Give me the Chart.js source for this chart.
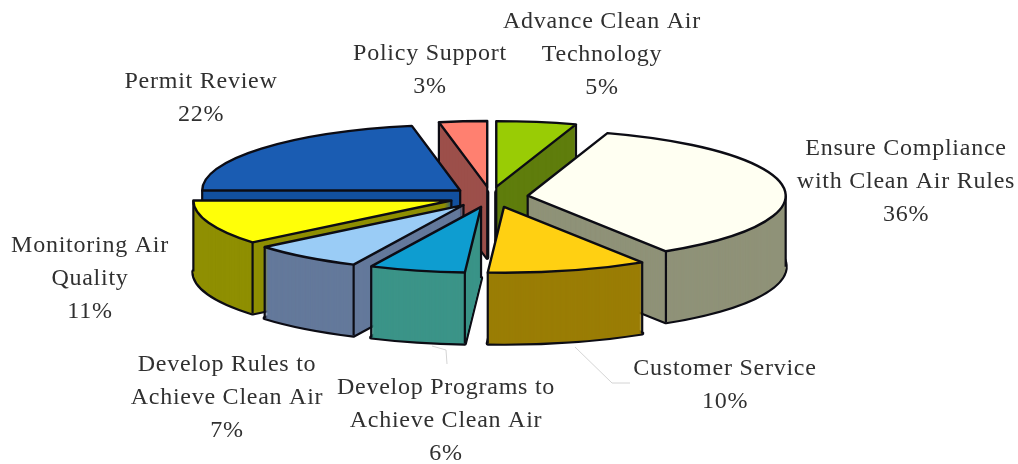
<!DOCTYPE html>
<html><head><meta charset="utf-8">
<style>html,body{margin:0;padding:0;background:#fff}#w{width:1018px;height:464px}</style>
<script src="https://cdn.jsdelivr.net/npm/chart.js@4/dist/chart.umd.min.js"></script>
</head><body><div id="w"><canvas id="c" width="1018" height="464"></canvas></div>
<script>
const categories = ["Advance Clean Air\nTechnology","Ensure Compliance\nwith Clean Air Rules","Customer Service","Develop Programs to\nAchieve Clean Air","Develop Rules to\nAchieve Clean Air","Monitoring Air\nQuality","Permit Review","Policy Support"];
const shares = [5,36,10,6,7,11,22,3];
const topColors = ["#99cc05","#fffff2","#ffd012","#0e9dd0","#9accf6","#ffff08","#1a5cb2","#ff8070"];
const sideColors = ["#5f7d0c","#8f9278","#9a7d05","#3b9488","#64799b","#8f8f02","#12509f","#9c4f4a"];
const labelCenters = [[602,22],[906,149],[725,369],[446,388],[227,365],[90,246],[201,82],[430,54]];
const nudgeX = [2,0,6,3,0,1,3,3];

const SQUASH = 0.255, DEPTH = 71, EXPLODE = 40, RADIUS = 258, LINE_H = 33;
const PAINT_ORDER = [0,7,6,1,5,4,3,2];
const TWO_PI = Math.PI*2;

function geom(arc,i){
  const p = arc.getProps(['x','y','startAngle','endAngle','outerRadius']);
  const mid = (p.startAngle+p.endAngle)/2;
  return {...p, dx:Math.cos(mid)*EXPLODE+nudgeX[i], dy:Math.sin(mid)*EXPLODE};
}
function project(g,a,r,d){
  return [g.x+g.dx+Math.cos(a)*r, g.y+(g.dy+Math.sin(a)*r)*SQUASH+d];
}
function inAngle(a,s,e){
  while(a<s) a+=TWO_PI;
  while(a>s+TWO_PI) a-=TWO_PI;
  return a<=e+1e-6;
}
function tracePath(ctx,g,d){
  ctx.save();
  ctx.translate(g.x+g.dx, g.y+g.dy*SQUASH+d);
  ctx.scale(1,SQUASH);
  ctx.beginPath();
  ctx.moveTo(0,0);
  ctx.arc(0,0,g.outerRadius,g.startAngle,g.endAngle);
  ctx.closePath();
  ctx.restore();
}
function fillArc(ctx,arc,g,d,color){
  const saved = arc.options;
  arc.options = Object.assign({},saved,{backgroundColor:color,borderWidth:0,offset:0});
  ctx.save();
  ctx.translate(0,g.y+g.dy*SQUASH+d);
  ctx.scale(1,SQUASH);
  ctx.translate(g.dx,-g.y);
  arc.draw(ctx);
  ctx.restore();
  arc.options = saved;
}
function verticals(ctx,g){
  const R = g.outerRadius, pts = [];
  const below = (a,r)=>{
    const px=Math.cos(a)*r, py=Math.sin(a)*r+4/SQUASH;
    const rr=Math.hypot(px,py);
    return !(rr<=R && inAngle(Math.atan2(py,px),g.startAngle,g.endAngle));
  };
  if(below(0,0)) pts.push([0,0]);
  for(const a of [g.startAngle,g.endAngle]) if(below(a,R)) pts.push([a,R]);
  for(const a of [0,Math.PI]) if(inAngle(a,g.startAngle,g.endAngle)) pts.push([a,R]);
  ctx.beginPath();
  for(const [a,r] of pts){
    const t=project(g,a,r,0);
    ctx.moveTo(t[0],t[1]); ctx.lineTo(t[0],t[1]+DEPTH);
  }
  ctx.stroke();
}
const pie3d = {
  id:'pie3d',
  beforeDatasetDraw(chart){
    const ctx = chart.ctx, arcs = chart.getDatasetMeta(0).data;
    ctx.save();
    ctx.strokeStyle='#0c0c14'; ctx.lineJoin='round';
    for(const i of PAINT_ORDER){
      const arc=arcs[i], g=geom(arc,i);
      tracePath(ctx,g,DEPTH); ctx.lineWidth=4.2; ctx.stroke();
      for(let d=DEPTH;d>=1;d--) fillArc(ctx,arc,g,d,sideColors[i]);
      ctx.lineWidth=2.2; verticals(ctx,g);
      fillArc(ctx,arc,g,0,topColors[i]);
      tracePath(ctx,g,0); ctx.lineWidth=2.4; ctx.stroke();
    }
    ctx.restore();
    return false;
  },
  afterDraw(chart){
    const ctx = chart.ctx;
    ctx.save();
    ctx.strokeStyle='#d4d4d4'; ctx.lineWidth=1;
    ctx.beginPath(); ctx.moveTo(432,346); ctx.lineTo(446,350); ctx.lineTo(447,364);
    ctx.moveTo(575,347); ctx.lineTo(612,383); ctx.lineTo(630,383); ctx.stroke();
    ctx.fillStyle='#303030'; ctx.font='24px "Liberation Serif"';
    ctx.textAlign='center'; ctx.textBaseline='middle';
    if('letterSpacing' in ctx) ctx.letterSpacing='0.75px';
    categories.forEach((name,i)=>{
      const lines=name.split('\n').concat(shares[i]+'%');
      lines.forEach((t,k)=>ctx.fillText(t,labelCenters[i][0],labelCenters[i][1]+k*LINE_H));
    });
    ctx.restore();
  }
};
new Chart(document.getElementById('c'),{
  type:'pie',
  data:{labels:categories,datasets:[{data:shares,backgroundColor:topColors,borderWidth:0}]},
  options:{
    responsive:false,animation:false,events:[],radius:RADIUS,
    layout:{padding:{right:42,bottom:70}},
    plugins:{legend:{display:false},tooltip:{enabled:false},title:{display:false}}
  },
  plugins:[pie3d]
});
</script></body></html>
